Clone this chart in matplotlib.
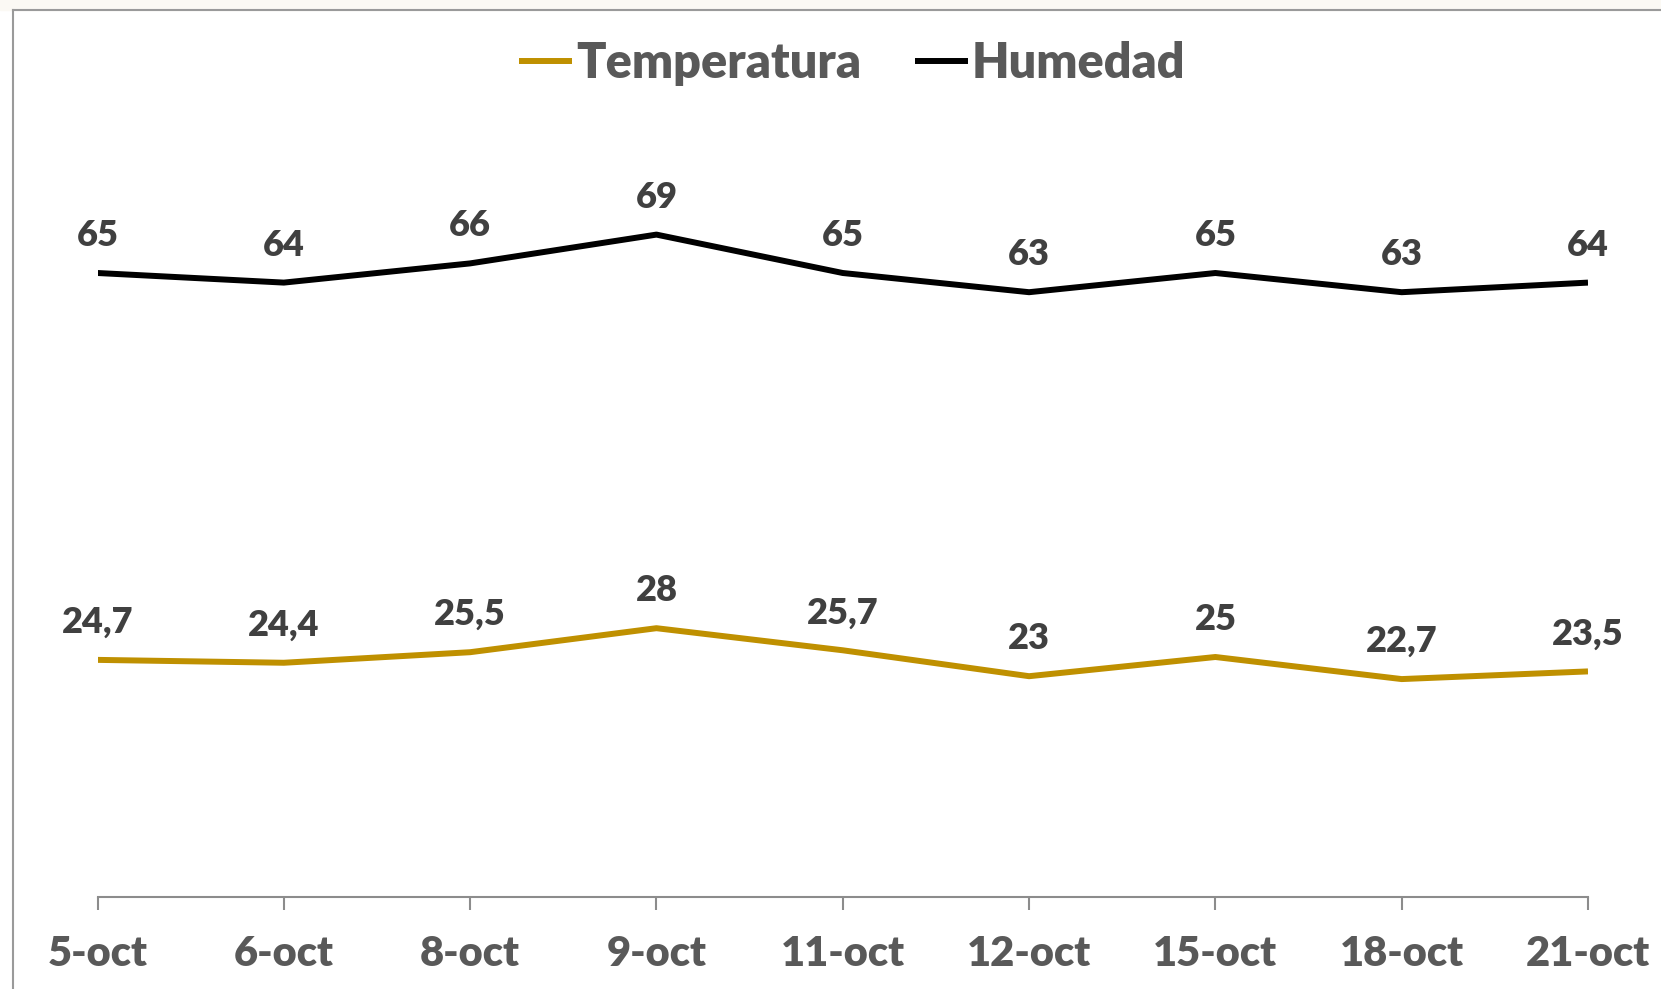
import matplotlib
matplotlib.use("Agg")
import matplotlib.pyplot as plt
from matplotlib.patches import Rectangle
from matplotlib.lines import Line2D

fechas = ["5-oct", "6-oct", "8-oct", "9-oct", "11-oct", "12-oct", "15-oct", "18-oct", "21-oct"]
temperatura = [24.7, 24.4, 25.5, 28, 25.7, 23, 25, 22.7, 23.5]
humedad = [65, 64, 66, 69, 65, 63, 65, 63, 64]

ORO = "#BF9000"
GRIS_TXT = "#595959"
GRIS_LBL = "#404040"
PESO = "heavy"

plt.rcParams["font.family"] = ["Lato", "DejaVu Sans"]
plt.rcParams["font.weight"] = PESO

W, H = 1661, 989
fig = plt.figure(figsize=(W / 100, H / 100), dpi=100)

# fondo claro arriba y borde del area del grafico
fig.patches.append(Rectangle((0, 1 - 10 / H), 1, 10 / H, transform=fig.transFigure,
                             color="#fbf9f4", zorder=0))
fig.add_artist(Line2D([13 / W, 1], [1 - 10 / H, 1 - 10 / H], color="#9a9a9a", lw=1.5))
fig.add_artist(Line2D([13 / W, 13 / W], [0, 1 - 10 / H], color="#9a9a9a", lw=1.5))

ax = fig.add_axes([97.5 / W, 92 / H, (1588 - 97.5) / W, (897 - 129) / H])
x = list(range(len(fechas)))

ax.plot(x, temperatura, color=ORO, lw=4.3, solid_capstyle="butt", label="Temperatura")
ax.plot(x, humedad, color="black", lw=4.3, solid_capstyle="butt", label="Humedad")

for serie in (temperatura, humedad):
    for xi, v in zip(x, serie):
        txt = ("%g" % v).replace(".", ",")
        ax.annotate(txt, (xi, v), xytext=(0, 27), textcoords="offset points",
                    ha="center", va="center", fontsize=26, color=GRIS_LBL,
                    fontweight=PESO)

ax.set_xlim(0, len(fechas) - 1)
ax.set_ylim(0, 80)
ax.set_xticks(x)
ax.set_xticklabels(fechas, fontsize=30, color=GRIS_TXT, fontweight=PESO)
ax.set_yticks([])
ax.tick_params(axis="x", length=9.5, width=1.5, color="#8c8c8c", pad=18)
for s in ("left", "right", "top"):
    ax.spines[s].set_visible(False)
ax.spines["bottom"].set_color("#8c8c8c")
ax.spines["bottom"].set_linewidth(1.5)
ax.patch.set_alpha(0)

leg = fig.legend(loc="center", bbox_to_anchor=(852 / W, 1 - 64 / H), ncol=2,
                 frameon=False, fontsize=35, handlelength=1.1, handletextpad=0.08,
                 columnspacing=1.1)
for t in leg.get_texts():
    t.set_color(GRIS_TXT)
    t.set_fontweight(PESO)

fig.savefig("out.png", dpi=100)
